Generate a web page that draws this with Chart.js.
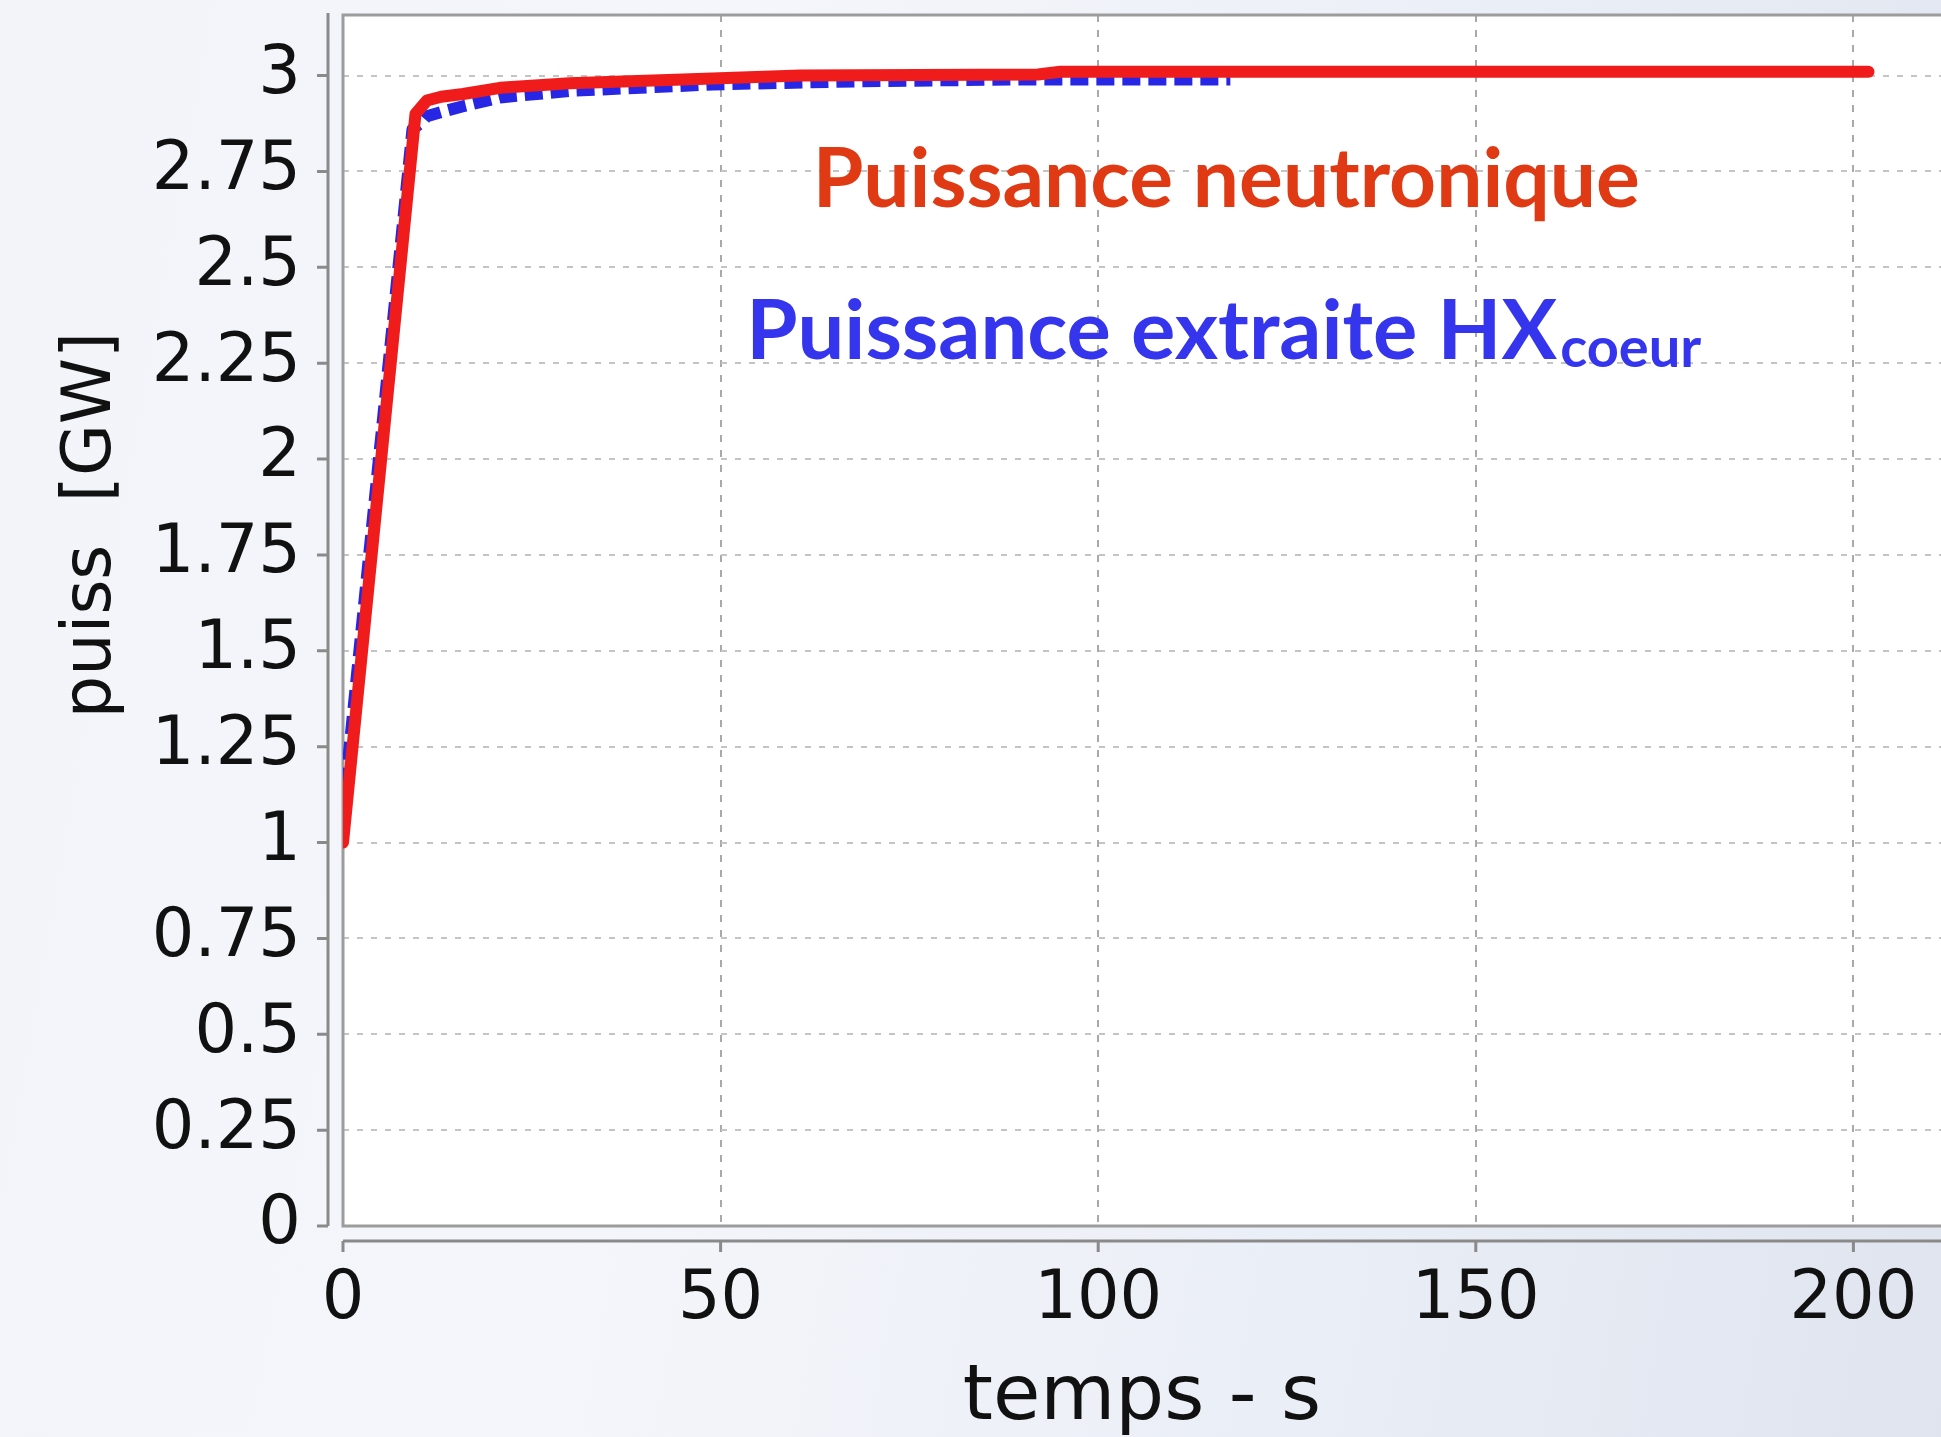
<!DOCTYPE html>
<html>
<head>
<meta charset="utf-8">
<script src="https://cdn.jsdelivr.net/npm/chart.js@4.4.1/dist/chart.umd.min.js"></script>
<style>
  html, body { margin: 0; padding: 0; }
  body {
    width: 1941px; height: 1437px; overflow: hidden;
    background: linear-gradient(100deg, #f2f4f9 0%, #f5f6fb 35%, #eaeef6 70%, #dfe4ef 100%);
  }
  #wrap { position: relative; width: 1941px; height: 1437px; }
</style>
</head>
<body>
<div id="wrap"><canvas id="puissChart"></canvas></div>
<script>
// temps (s) et puissance (GW)
var tNeutron = [0, 9.6, 11.1, 13, 15.9, 20.8, 30, 45, 60.5, 92, 95, 150, 202];
var pNeutron = [1.0, 2.90, 2.935, 2.945, 2.952, 2.968, 2.98, 2.99, 3.0, 3.003, 3.01, 3.01, 3.01];

var tExtraite = [0, 9.2, 10.5, 11.1, 13, 15.9, 20.8, 30, 49, 68, 90, 117.5];
var pExtraite = [1.08, 2.86, 2.88, 2.894, 2.905, 2.92, 2.943, 2.96, 2.977, 2.985, 2.99, 2.99];

var xTicks = [0, 50, 100, 150, 200];
var yTicks = [0, 0.25, 0.5, 0.75, 1, 1.25, 1.5, 1.75, 2, 2.25, 2.5, 2.75, 3];
var yTickLabels = ['0', '0.25', '0.5', '0.75', '1', '1.25', '1.5', '1.75', '2', '2.25', '2.5', '2.75', '3'];

var FONT = 'DejaVu Sans';

function pts(xs, ys) {
    return xs.map(function (x, i) { return { x: x, y: ys[i] }; });
}

// fond blanc du trace + cadre + axes decales avec graduations
var plotFrame = {
    id: 'plotFrame',
    beforeDraw: function (chart) {
        var ctx = chart.ctx, a = chart.chartArea;
        ctx.save();
        ctx.fillStyle = '#ffffff';
        ctx.fillRect(a.left, a.top, a.right - a.left, a.bottom - a.top);
        ctx.restore();
    },
    beforeDatasetsDraw: function (chart) {
        var ctx = chart.ctx, a = chart.chartArea;
        var xs = chart.scales.x, ys = chart.scales.y;
        ctx.save();
        ctx.strokeStyle = '#9c9c9c';
        ctx.lineWidth = 3;
        ctx.beginPath();
        ctx.moveTo(a.right + 5, a.top);
        ctx.lineTo(a.left, a.top);
        ctx.lineTo(a.left, a.bottom);
        ctx.lineTo(a.right + 5, a.bottom);
        ctx.stroke();

        // axe y decale
        var ax = a.left - 15;
        ctx.strokeStyle = '#8a8a8a';
        ctx.beginPath();
        ctx.moveTo(ax, a.top - 2);
        ctx.lineTo(ax, ys.getPixelForValue(0));
        yTicks.forEach(function (v) {
            var py = ys.getPixelForValue(v);
            ctx.moveTo(ax - 11, py);
            ctx.lineTo(ax, py);
        });
        ctx.stroke();

        // axe x decale
        var ay = a.bottom + 15;
        ctx.beginPath();
        ctx.moveTo(xs.getPixelForValue(0), ay);
        ctx.lineTo(a.right + 5, ay);
        xTicks.forEach(function (v) {
            var px = xs.getPixelForValue(v);
            ctx.moveTo(px, ay);
            ctx.lineTo(px, ay + 11);
        });
        ctx.stroke();

        // titre de l'axe y, un peu au-dessus du milieu
        ctx.fillStyle = '#111111';
        ctx.font = '67px "' + FONT + '"';
        ctx.textAlign = 'center';
        ctx.textBaseline = 'middle';
        ctx.translate(93, 525);
        ctx.rotate(-Math.PI / 2);
        ctx.fillText('puiss  [GW]', 0, 0);
        ctx.restore();
    },
    afterDatasetsDraw: function (chart) {
        var ctx = chart.ctx;
        var xs = chart.scales.x, ys = chart.scales.y;
        ctx.save();
        ctx.textBaseline = 'alphabetic';
        ctx.textAlign = 'left';

        ctx.fillStyle = '#e03a14';
        ctx.font = 'bold 82px Lato';
        ctx.fillText('Puissance neutronique', xs.getPixelForValue(62.2), ys.getPixelForValue(2.658));

        ctx.fillStyle = '#3535ee';
        ctx.font = 'bold 83px Lato';
        var bx = xs.getPixelForValue(53.4);
        var by = ys.getPixelForValue(2.26);
        var main = 'Puissance extraite HX';
        ctx.fillText(main, bx, by);
        var w = ctx.measureText(main).width;
        ctx.font = 'bold 56px Lato';
        ctx.fillText('coeur', bx + w + 3, by + 8);
        ctx.restore();
    }
};

var chart = new Chart(document.getElementById('puissChart'), {
    type: 'line',
    data: {
        datasets: [{
            label: 'Puissance neutronique',
            data: pts(tNeutron, pNeutron),
            borderColor: '#f01c1c',
            borderWidth: 12,
            pointRadius: 0,
            tension: 0,
            borderJoinStyle: 'round',
            borderCapStyle: 'round'
        }, {
            label: 'Puissance extraite HXcoeur',
            data: pts(tExtraite, pExtraite),
            borderColor: '#2626e4',
            borderWidth: 12,
            borderDash: [18, 8],
            pointRadius: 0,
            tension: 0,
            borderJoinStyle: 'round'
        }]
    },
    options: {
        responsive: true,
        maintainAspectRatio: false,
        devicePixelRatio: 1,
        animation: false,
        layout: { padding: { top: 15, left: 0, right: 0, bottom: 0 } },
        plugins: {
            legend: { display: false },
            tooltip: { enabled: false }
        },
        scales: {
            x: {
                type: 'linear',
                min: 0,
                max: 211.6,
                afterBuildTicks: function (s) { s.ticks = xTicks.map(function (v) { return { value: v }; }); },
                afterFit: function (s) {
                    s.height = 211;
                    s.paddingLeft = 0;
                    s.paddingRight = 0;
                },
                ticks: {
                    font: { family: FONT, size: 67 },
                    color: '#111111',
                    padding: 34,
                    maxRotation: 0
                },
                grid: { color: '#a9a9a9', lineWidth: 2, drawTicks: false },
                border: { display: false, dash: [7, 8] },
                title: {
                    display: true,
                    text: 'temps - s',
                    font: { family: FONT, size: 77, lineHeight: 1.0 },
                    color: '#111111',
                    padding: { top: 0, bottom: 0 }
                }
            },
            y: {
                type: 'linear',
                min: 0,
                max: 3.158,
                afterBuildTicks: function (s) { s.ticks = yTicks.map(function (v) { return { value: v }; }); },
                afterFit: function (s) {
                    s.width = 343;
                    s.paddingTop = 0;
                    s.paddingBottom = 0;
                },
                ticks: {
                    font: { family: FONT, size: 67 },
                    color: '#111111',
                    padding: 42,
                    callback: function (v) {
                        var i = yTicks.indexOf(v);
                        return i >= 0 ? yTickLabels[i] : '';
                    }
                },
                grid: { color: '#c4c4c4', lineWidth: 2, drawTicks: false },
                border: { display: false, dash: [6, 8] },
                title: { display: false }
            }
        }
    },
    plugins: [plotFrame]
});
</script>
</body>
</html>
